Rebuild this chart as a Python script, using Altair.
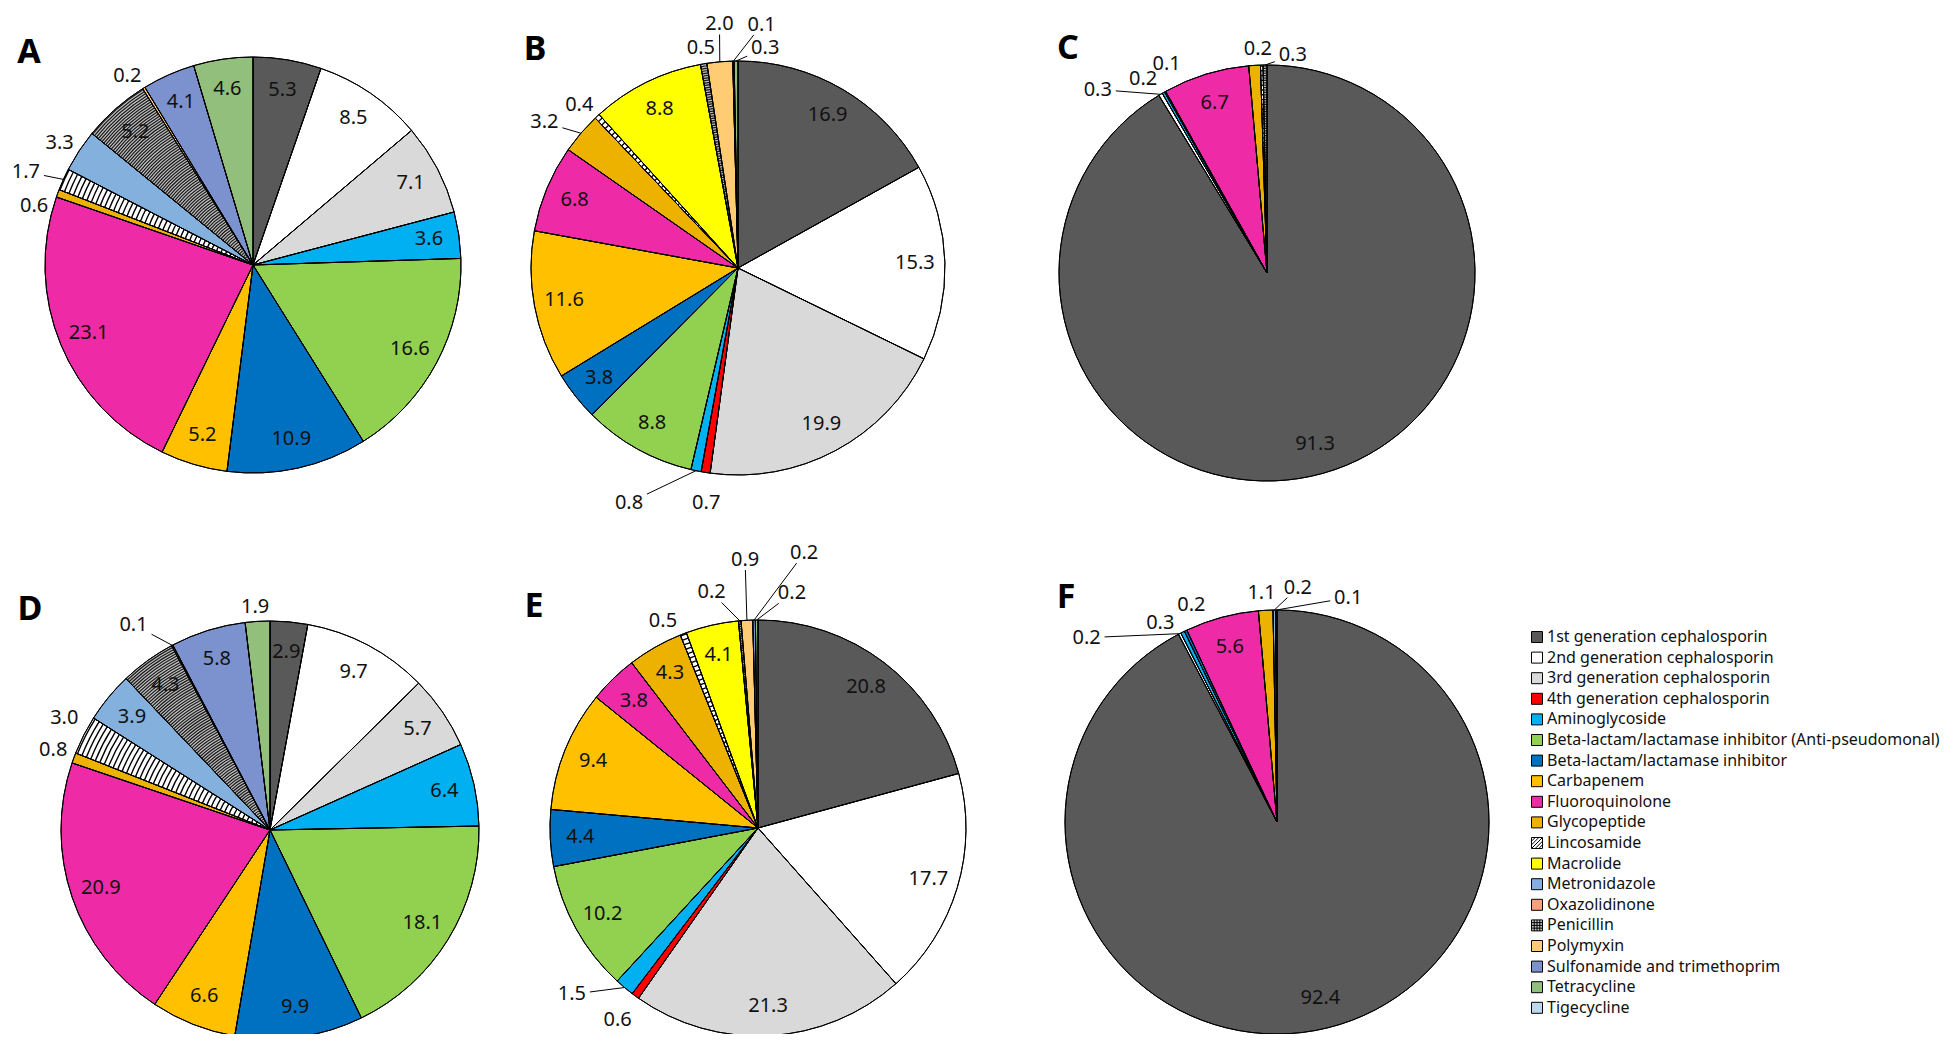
import math
import pandas as pd
import altair as alt

# ---------------- data ----------------
categories = [
    "1st generation cephalosporin",
    "2nd generation cephalosporin",
    "3rd generation cephalosporin",
    "4th generation cephalosporin",
    "Aminoglycoside",
    "Beta-lactam/lactamase inhibitor (Anti-pseudomonal)",
    "Beta-lactam/lactamase inhibitor",
    "Carbapenem",
    "Fluoroquinolone",
    "Glycopeptide",
    "Lincosamide",
    "Macrolide",
    "Metronidazole",
    "Oxazolidinone",
    "Penicillin",
    "Polymyxin",
    "Sulfonamide and trimethoprim",
    "Tetracycline",
    "Tigecycline",
]
colors = [
    "#595959", "#FFFFFF", "#D9D9D9", "#FF0000", "#00B0F0", "#92D050", "#0070C0",
    "#FFC000", "#EE2AA6", "#EDB100", "#FFFFFF", "#FFFF00", "#84B0DE", "#F4A27E",
    "#BFBFBF", "#FFCC73", "#7B92CF", "#93BF7C", "#BDD7EE",
]
panels = ["A", "B", "C", "D", "E", "F"]
vals_A = [5.3, 8.5, 7.1, 0, 3.6, 16.6, 10.9, 5.2, 23.1, 0.6, 1.7, 0, 3.3, 0, 5.2, 0.2, 4.1, 4.6, 0]
vals_B = [16.9, 15.3, 19.9, 0.7, 0.8, 8.8, 3.8, 11.6, 6.8, 3.2, 0.4, 8.8, 0, 0, 0.5, 2.0, 0.1, 0.3, 0]
vals_C = [91.3, 0.3, 0, 0, 0.2, 0, 0.1, 0, 6.7, 0.9, 0.2, 0, 0, 0, 0.3, 0, 0, 0, 0]
vals_D = [2.9, 9.7, 5.7, 0, 6.4, 18.1, 9.9, 6.6, 20.9, 0.8, 3.0, 0, 3.9, 0, 4.3, 0.1, 5.8, 1.9, 0]
vals_E = [20.8, 17.7, 21.3, 0.6, 1.5, 10.2, 4.4, 9.4, 3.8, 4.3, 0.5, 4.1, 0, 0, 0.2, 0.9, 0.2, 0.2, 0]
vals_F = [92.4, 0.2, 0, 0, 0.3, 0, 0.2, 0, 5.6, 1.1, 0, 0, 0.2, 0, 0.1, 0, 0, 0, 0]
values = dict(zip(panels, [vals_A, vals_B, vals_C, vals_D, vals_E, vals_F]))

# ---------------- layout / style ----------------
W, H = 1943, 1026
CENTER = {"A": (245, 257), "B": (730, 260), "C": (1259, 265),
          "D": (262, 822), "E": (750, 820), "F": (1269, 814)}
RADIUS = {"A": 208, "B": 207, "C": 208, "D": 209, "E": 208, "F": 212}
LETTER = {"A": (21, 55), "B": (527, 52), "C": (1060, 51),
          "D": (22, 612), "E": (526, 609), "F": (1058, 600)}
FONT = "Noto Sans"
IN_R = 0.855
HW, HH = 18.0, 10.0
# outside labels: (radius factor, angle nudge in degrees, leader line)
OUT_LABELS = {
    "A": {"Polymyxin": (1.09, -2, False), "Metronidazole": (1.10, -1, False),
          "Lincosamide": (1.18, -2, True), "Glycopeptide": (1.09, -5, False)},
    "B": {"Polymyxin": (1.18, 0.7, True), "Sulfonamide and trimethoprim": (1.18, 6.8, True),
          "Tetracycline": (1.07, 7.6, True), "Penicillin": (1.08, 0, False),
          "Lincosamide": (1.10, -1.3, False), "Glycopeptide": (1.17, -3.7, True),
          "Aminoglycoside": (1.25, 13.2, True), "4th generation cephalosporin": (1.145, -1.3, False)},
    "C": {"2nd generation cephalosporin": (1.20, -11.9, True), "Aminoglycoside": (1.106, -2.7, False),
          "Beta-lactam/lactamase inhibitor": (1.115, 3.7, False), "Lincosamide": (1.077, -0.9, False),
          "Penicillin": (1.053, 7.3, True)},
    "D": {"Tetracycline": (1.07, -0.4, False), "Polymyxin": (1.18, -5.7, True),
          "Lincosamide": (1.12, 1.5, False), "Glycopeptide": (1.105, 0, False)},
    "E": {"Polymyxin": (1.29, 0.3, True), "Penicillin": (1.154, -6.1, True),
          "Lincosamide": (1.096, -3.6, False), "Sulfonamide and trimethoprim": (1.34, 10.6, True),
          "Tetracycline": (1.14, 8.6, True), "Aminoglycoside": (1.20, 8.3, True),
          "4th generation cephalosporin": (1.144, 0, False)},
    "F": {"2nd generation cephalosporin": (1.25, -18.6, True), "Aminoglycoside": (1.09, -3.9, False),
          "Beta-lactam/lactamase inhibitor": (1.10, 4.0, False), "Glycopeptide": (1.085, -0.8, False),
          "Metronidazole": (1.11, 5.8, True), "Penicillin": (1.11, 17.8, True)},
}
HIDDEN = {("C", "Glycopeptide")}
# texture rings: (ink colour, period px, ring width px)
TEXTURE = {"Lincosamide": ("#000000", 4.8, 1.4), "Penicillin": ("#1A1A1A", 2.4, 1.2)}

HATCH = "M-1,-1H1V1H-1Z M-1,-0.33L-0.33,-1 M-1,0.33L0.33,-1 M-1,1L1,-1 M-0.33,1L1,-0.33 M0.33,1L1,0.33"
CROSS = "M-1,-1H1V1H-1Z M-1,-0.5H1 M-1,0H1 M-1,0.5H1 M-0.5,-1V1 M0,-1V1 M0.5,-1V1"
shapes = ["square"] * len(categories)
shapes[categories.index("Lincosamide")] = HATCH
shapes[categories.index("Penicillin")] = CROSS

LEG_X, LEG_TX, LEG_Y0, LEG_STEP = 1529, 1539, 629, 20.6

# ---------------- derived tables ----------------
slice_rows, label_rows, leader_rows, ring_rows = [], [], [], []
for p in panels:
    vals = values[p]
    tot = float(sum(vals))
    cx, cy = CENTER[p]
    R = RADIUS[p]
    cum = 0.0
    for cat, v in zip(categories, vals):
        if v <= 0:
            continue
        s = cum / tot
        cum += v
        e = cum / tot
        m = (s + e) / 2
        slice_rows.append(dict(panel=p, cat=cat, value=v, start=s, end=e, cx=cx, cy=cy, R=R))
        if cat in TEXTURE:
            ink, period, width = TEXTURE[cat]
            r = period
            while r + width <= R:
                ring_rows.append(dict(start=s, end=e, ri=r, ro=r + width, ink=ink, cx=cx, cy=cy))
                r += period
        if (p, cat) in HIDDEN:
            continue
        rf, dth, lead = OUT_LABELS.get(p, {}).get(cat, (IN_R, 0.0, False))
        th = m + dth / 360.0
        lr = rf * R
        label_rows.append(dict(text=f"{v:.1f}", th=th, lr=lr, cx=cx, cy=cy))
        if lead:
            lx = cx + lr * math.sin(2 * math.pi * th)
            ly = cy - lr * math.cos(2 * math.pi * th)
            ex = cx + R * math.sin(2 * math.pi * m)
            ey = cy - R * math.cos(2 * math.pi * m)
            dx, dy = ex - lx, ey - ly
            t = min(HW / abs(dx) if dx else 1e9, HH / abs(dy) if dy else 1e9)
            if t < 1:
                leader_rows.append(dict(x1=lx + dx * t, y1=ly + dy * t, x2=ex, y2=ey))

slices = pd.DataFrame(slice_rows)
labels = pd.DataFrame(label_rows)
leaders = pd.DataFrame(leader_rows)
rings = pd.DataFrame(ring_rows)
letters = pd.DataFrame([dict(panel=p, lx=LETTER[p][0], ly=LETTER[p][1]) for p in panels])
legend = pd.DataFrame([dict(cat=c, ly=LEG_Y0 + i * LEG_STEP) for i, c in enumerate(categories)])

theta_scale = alt.Scale(domain=[0, 1], range=[0, 2 * math.pi])
color_scale = alt.Scale(domain=categories, range=colors)


def px(field):
    return alt.X(field, type="quantitative", scale=None, axis=None)


def py(field):
    return alt.Y(field, type="quantitative", scale=None, axis=None)


wedges = alt.Chart(slices).mark_arc(stroke="black", strokeWidth=1).encode(
    x=px("cx"), y=py("cy"),
    theta=alt.Theta("start:Q", scale=theta_scale, stack=None),
    theta2=alt.Theta2("end:Q"),
    radius=alt.Radius("R:Q", scale=None),
    radius2=alt.value(0),
    color=alt.Color("cat:N", scale=color_scale, legend=None),
)

texture = alt.Chart(rings).mark_arc(strokeWidth=0).encode(
    x=px("cx"), y=py("cy"),
    theta=alt.Theta("start:Q", scale=theta_scale, stack=None),
    theta2=alt.Theta2("end:Q"),
    radius=alt.Radius("ro:Q", scale=None),
    radius2=alt.Radius2("ri:Q"),
    fill=alt.Fill("ink:N", scale=None, legend=None),
)

outlines = alt.Chart(slices).mark_arc(stroke="black", strokeWidth=1, fillOpacity=0, fill="white").encode(
    x=px("cx"), y=py("cy"),
    theta=alt.Theta("start:Q", scale=theta_scale, stack=None),
    theta2=alt.Theta2("end:Q"),
    radius=alt.Radius("R:Q", scale=None),
    radius2=alt.value(0),
)

value_labels = alt.Chart(labels).mark_text(
    font=FONT, fontSize=20, color="#111111", align="center", baseline="middle"
).encode(
    x=px("cx"), y=py("cy"),
    theta=alt.Theta("th:Q", scale=theta_scale, stack=None),
    radius=alt.Radius("lr:Q", scale=None),
    text="text:N",
)

leader_lines = alt.Chart(leaders).mark_rule(color="black", strokeWidth=1).encode(
    x=px("x1"), y=py("y1"), x2="x2:Q", y2="y2:Q",
)

panel_letters = alt.Chart(letters).mark_text(
    font=FONT, fontSize=34, fontWeight="bold", color="black", align="center", baseline="alphabetic"
).encode(x=px("lx"), y=py("ly"), text="panel:N")

legend_symbols = alt.Chart(legend).mark_point(
    filled=True, size=121, stroke="black", strokeWidth=1, opacity=1
).encode(
    x=alt.value(LEG_X), y=py("ly"),
    color=alt.Color("cat:N", scale=color_scale, legend=None),
    shape=alt.Shape("cat:N", scale=alt.Scale(domain=categories, range=shapes), legend=None),
)

legend_text = alt.Chart(legend).mark_text(
    font=FONT, fontSize=16, color="#111111", align="left", baseline="middle"
).encode(x=alt.value(LEG_TX), y=py("ly"), text="cat:N")

chart = alt.layer(
    wedges, texture, outlines, value_labels, leader_lines, panel_letters, legend_symbols, legend_text
).properties(
    width=W, height=H, autosize=alt.AutoSizeParams(type="none"), padding=0
).configure_view(stroke=None)

chart.save("out.html", embed_options={"renderer": "svg", "actions": False})
